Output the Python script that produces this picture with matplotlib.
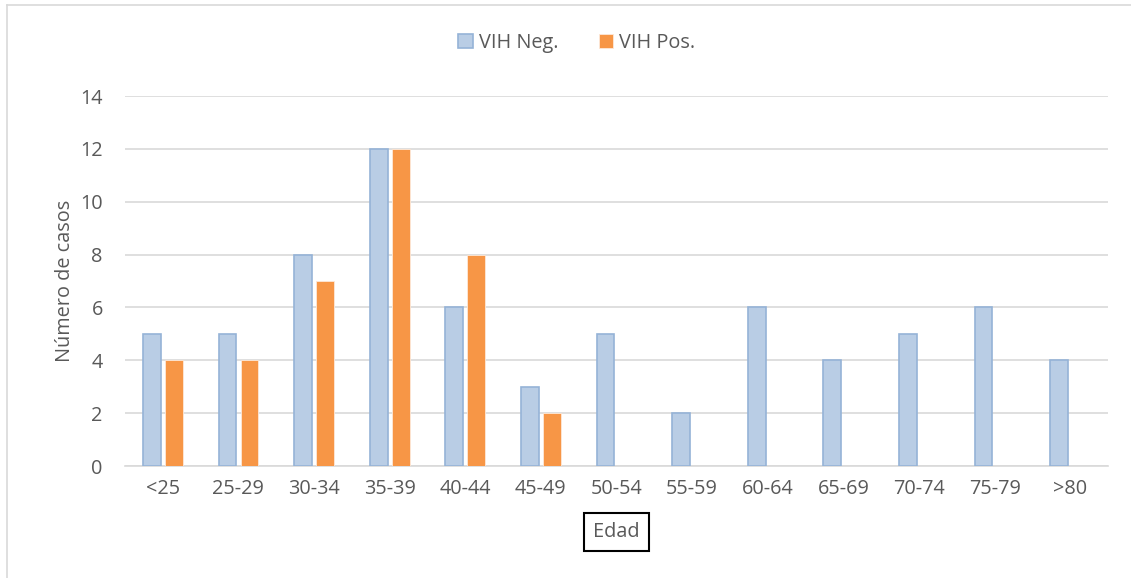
import matplotlib.pyplot as plt
import numpy as np
from matplotlib.lines import Line2D

# Datos
grupos_edad = ['<25', '25-29', '30-34', '35-39', '40-44', '45-49', '50-54',
               '55-59', '60-64', '65-69', '70-74', '75-79', '>80']
vih_neg = [5, 5, 8, 12, 6, 3, 5, 2, 6, 4, 5, 6, 4]
vih_pos = [4, 4, 7, 12, 8, 2, 0, 0, 0, 0, 0, 0, 0]

plt.rcParams['font.family'] = ['Open Sans', 'DejaVu Sans']
gris = '#595959'
fs = 14.3

fig = plt.figure(figsize=(11.31, 5.78), dpi=100)
ax = fig.add_axes([125 / 1131, 1 - 466 / 578, (1108 - 125) / 1131, (466 - 96) / 578])

x = np.arange(len(grupos_edad))
ancho = 0.235
ax.bar(x - 0.145, vih_neg, ancho, color='#B9CDE5', edgecolor='#95B3D7',
       linewidth=1.2, label='VIH Neg.', zorder=3)
ax.bar(x + 0.145, vih_pos, ancho, color='#F79646', edgecolor='#FDE9D9',
       linewidth=0.6, label='VIH Pos.', zorder=3)

ax.set_xlim(-0.5, len(grupos_edad) - 0.5)
ax.set_ylim(0, 14)
ax.set_yticks(range(0, 15, 2))
ax.set_xticks(x)
ax.set_xticklabels(grupos_edad)
ax.grid(axis='y', color='#D9D9D9', linewidth=1.2, zorder=0)
for s in ['top', 'right', 'left']:
    ax.spines[s].set_visible(False)
ax.spines['bottom'].set_color('#D9D9D9')
ax.spines['bottom'].set_linewidth(1.2)
ax.tick_params(length=0, labelsize=fs, colors=gris, pad=9)
ax.tick_params(axis='y', pad=16)

ax.set_ylabel('Número de casos', fontsize=fs, color=gris, labelpad=4)
ax.set_xlabel('Edad', fontsize=fs, color=gris, labelpad=17,
              bbox=dict(boxstyle='square,pad=0.45', facecolor='white',
                        edgecolor='black', linewidth=1.5))

fig.legend(loc='center', bbox_to_anchor=(577 / 1131, 1 - 43 / 578), ncol=2,
           frameon=False, fontsize=fs, labelcolor=gris, handlelength=0.75,
           handleheight=0.75, handletextpad=0.3, columnspacing=2.0)

# Borde del gráfico
fig.add_artist(Line2D([7 / 1131, 7 / 1131], [0, 1 - 5 / 578],
                      transform=fig.transFigure, color='#D9D9D9', linewidth=1.2))
fig.add_artist(Line2D([7 / 1131, 1], [1 - 5 / 578, 1 - 5 / 578],
                      transform=fig.transFigure, color='#D9D9D9', linewidth=1.2))

fig.savefig('out.png', dpi=100)
